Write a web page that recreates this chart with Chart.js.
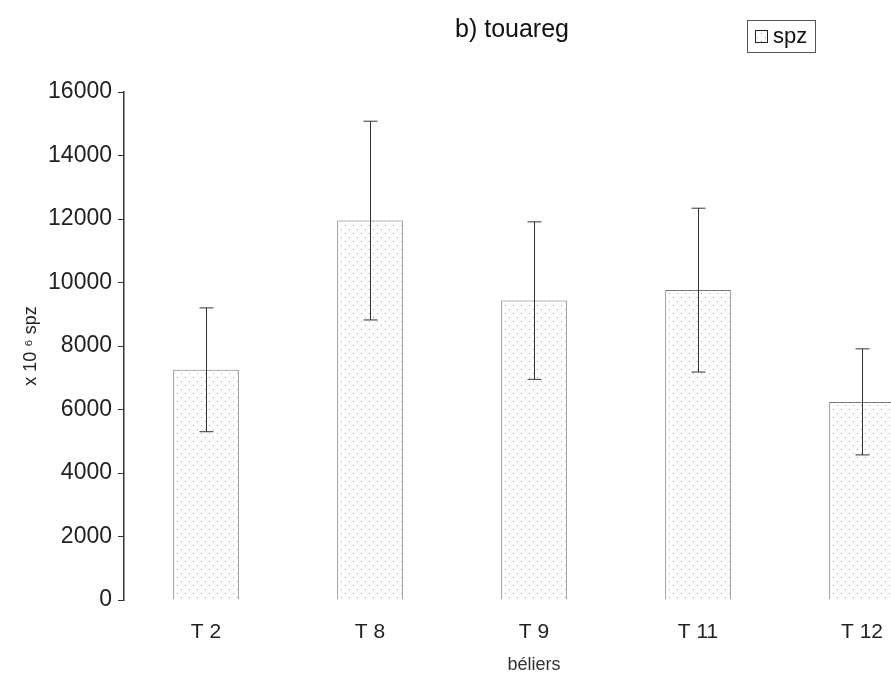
<!DOCTYPE html>
<html>
<head>
<meta charset="utf-8">
<script src="https://cdn.jsdelivr.net/npm/chart.js@4.4.0/dist/chart.umd.min.js"></script>
<style>
  html, body { margin: 0; padding: 0; background: #fff; overflow: hidden; }
  #wrap { width: 950px; height: 679px; }
</style>
</head>
<body>
<div id="wrap"><canvas id="chart-spz" width="950" height="679"></canvas></div>
<script>
const categories = ['T 2', 'T 8', 'T 9', 'T 11', 'T 12'];
const spzValues = [7250, 11950, 9430, 9760, 6240];
const spzErrors = [1950, 3130, 2480, 2580, 1670];
const yTicks = [0, 2000, 4000, 6000, 8000, 10000, 12000, 14000, 16000];

const ctx = document.getElementById('chart-spz');
const FONT = "'Liberation Sans', Arial, sans-serif";

// stipple pattern for the bars
function makeDots() {
    const c = document.createElement('canvas');
    c.width = 8;
    c.height = 8;
    const g = c.getContext('2d');
    g.fillStyle = '#ffffff';
    g.fillRect(0, 0, 8, 8);
    g.fillStyle = '#a8a8a8';
    g.fillRect(1, 1, 1, 1);
    g.fillRect(5, 5, 1, 1);
    return g.createPattern(c, 'repeat');
}
const dots = makeDots();

const errorBars = {
    id: 'errorBars',
    afterDatasetsDraw(chart) {
        const g = chart.ctx;
        const meta = chart.getDatasetMeta(0);
        const y = chart.scales.y;
        g.save();
        g.strokeStyle = '#333';
        g.lineWidth = 1;
        meta.data.forEach(function (bar, i) {
            const hi = y.getPixelForValue(spzValues[i] + spzErrors[i]);
            const lo = y.getPixelForValue(spzValues[i] - spzErrors[i]);
            const x = Math.round(bar.x) + 0.5;
            g.beginPath();
            g.moveTo(x, hi);
            g.lineTo(x, lo);
            g.moveTo(x - 7, hi);
            g.lineTo(x + 7, hi);
            g.moveTo(x - 7, lo);
            g.lineTo(x + 7, lo);
            g.stroke();
        });
        g.restore();
    }
};

const titleAndLegend = {
    id: 'titleAndLegend',
    afterDraw(chart) {
        const g = chart.ctx;
        g.save();
        g.fillStyle = '#111';
        g.font = '25px ' + FONT;
        g.textAlign = 'center';
        g.textBaseline = 'middle';
        g.fillText('b) touareg', 512, 30);

        // legend box
        g.strokeStyle = '#555';
        g.lineWidth = 1;
        g.strokeRect(747.5, 20.5, 68, 32);
        g.fillStyle = dots;
        g.fillRect(755, 30, 13, 13);
        g.strokeStyle = '#222';
        g.strokeRect(755.5, 30.5, 12, 12);
        g.fillStyle = '#111';
        g.font = '22px ' + FONT;
        g.textAlign = 'left';
        g.fillText('spz', 773, 37);
        g.restore();
    }
};

new Chart(ctx, {
    type: 'bar',
    data: {
        labels: categories,
        datasets: [{
            label: 'spz',
            data: spzValues,
            backgroundColor: dots,
            borderColor: '#777',
            borderWidth: 1,
            categoryPercentage: 1,
            barPercentage: 0.4
        }]
    },
    options: {
        responsive: false,
        animation: false,
        layout: { padding: { top: 92, right: 6, bottom: 0, left: 0 } },
        plugins: {
            legend: { display: false },
            title: { display: false },
            tooltip: { enabled: false }
        },
        scales: {
            x: {
                afterFit: function (scale) { scale.height = 79; },
                grid: { display: false },
                border: { display: false },
                ticks: { color: '#222', padding: 12, font: { family: FONT, size: 21 } },
                title: {
                    display: true,
                    text: 'béliers',
                    color: '#333',
                    font: { family: FONT, size: 18 },
                    padding: { top: 0, bottom: 3 }
                }
            },
            y: {
                min: 0,
                max: 16000,
                afterFit: function (scale) { scale.width = 124; },
                afterBuildTicks: function (scale) {
                    scale.ticks = yTicks.map(function (v) { return { value: v }; });
                },
                grid: { drawOnChartArea: false, drawTicks: true, tickLength: 6, color: '#333' },
                border: { display: true, color: '#333', width: 1.5 },
                ticks: {
                    color: '#222',
                    padding: 6,
                    font: { family: FONT, size: 23 },
                    callback: function (v) { return String(v); }
                },
                title: {
                    display: true,
                    text: 'x 10 \u2076 spz',
                    color: '#222',
                    font: { family: FONT, size: 18 },
                    padding: { top: 20, bottom: 0 }
                }
            }
        }
    },
    plugins: [errorBars, titleAndLegend]
});
</script>
</body>
</html>
